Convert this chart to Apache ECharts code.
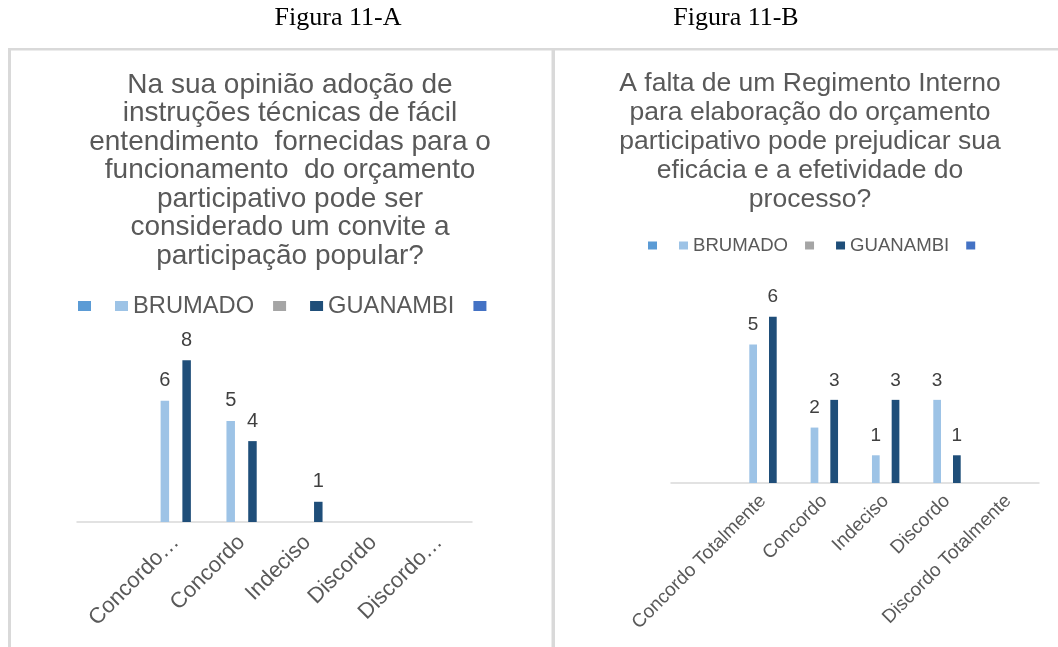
<!DOCTYPE html>
<html>
<head>
<meta charset="utf-8">
<script src="https://cdn.jsdelivr.net/npm/echarts@6/dist/echarts.min.js"></script>
<style>
html,body{margin:0;padding:0;background:#fff;}
#c{width:1058px;height:647px;}
</style>
</head>
<body>
<div id="c"></div>
<script>
// ---- data ----
const categories = ['', 'Concordo Totalmente', 'Concordo', 'Indeciso', 'Discordo', 'Discordo Totalmente'];
const emptySeries = [null, null, null, null, null, null];
const brumadoA = [null, 6, 5, null, null, null];
const guanambiA = [null, 8, 4, 1, null, null];
const brumadoB = [null, 5, 2, 1, 3, null];
const guanambiB = [null, 6, 3, 3, 1, null];
const legendA = ['a1', 'BRUMADO', 'a3', 'GUANAMBI', 'a5'];
const legendB = ['b1', 'BRUMADO', 'b3', 'GUANAMBI', 'b5'];
const titleA = 'Na sua opinião adoção de\ninstruções técnicas de fácil\nentendimento  fornecidas para o\nfuncionamento  do orçamento\nparticipativo pode ser\nconsiderado um convite a\nparticipação popular?';
const titleB = 'A falta de um Regimento Interno\npara elaboração do orçamento\nparticipativo pode prejudicar sua\neficácia e a efetividade do\nprocesso?';
const headerA = 'Figura 11-A';
const headerB = 'Figura 11-B';

const colors = ['#5b9bd5', '#9dc3e6', '#a5a5a5', '#1f4e79', '#4472c4'];
const SANS = "'Liberation Sans', Arial, sans-serif";
const SERIF = "'Liberation Serif', 'Times New Roman', serif";

function makeSeries(names, dataList, axisIndex, barWidth, labelSize, dist) {
  return names.map((n, i) => ({
    name: n,
    type: 'bar',
    xAxisIndex: axisIndex,
    yAxisIndex: axisIndex,
    data: dataList[i],
    barWidth: barWidth,
    barGap: '28%',
    itemStyle: { color: colors[i] },
    label: {
      show: true,
      position: 'top',
      distance: dist,
      color: '#404040',
      fontSize: labelSize,
      fontFamily: SANS
    },
    emphasis: { disabled: true }
  }));
}

const chart = echarts.init(document.getElementById('c'));
const legendFmt = name => (name.length <= 2 ? '\u200b' : name);

chart.setOption({
  animation: false,
  backgroundColor: '#ffffff',
  graphic: [
    { type: 'rect', shape: { x: 8, y: 48, width: 1050, height: 2.5 }, style: { fill: '#d9d9d9' }, silent: true },
    { type: 'rect', shape: { x: 8, y: 48, width: 3, height: 600 }, style: { fill: '#d9d9d9' }, silent: true },
    { type: 'rect', shape: { x: 551.5, y: 48, width: 3.5, height: 600 }, style: { fill: '#d9d9d9' }, silent: true },
    { type: 'text', x: 338, y: 18, style: { text: headerA, font: '26px ' + SERIF, fill: '#000', align: 'center', verticalAlign: 'middle' }, silent: true },
    { type: 'text', x: 736, y: 18, style: { text: headerB, font: '26px ' + SERIF, fill: '#000', align: 'center', verticalAlign: 'middle' }, silent: true }
  ],
  title: [
    {
      text: titleA, left: 290, top: 71, textAlign: 'center', padding: 0,
      textStyle: { fontFamily: SANS, fontSize: 28, fontWeight: 'normal', color: '#595959', lineHeight: 28.5 }
    },
    {
      text: titleB, left: 810, top: 69, textAlign: 'center', padding: 0,
      textStyle: { fontFamily: SANS, fontSize: 26.5, fontWeight: 'normal', color: '#595959', lineHeight: 29 }
    }
  ],
  legend: [
    {
      data: legendA, left: 78, top: 294, padding: 0, itemGap: 19,
      itemWidth: 13, itemHeight: 10, icon: 'rect', selectedMode: false,
      formatter: legendFmt,
      textStyle: { fontFamily: SANS, fontSize: 23.7, color: '#595959' }
    },
    {
      data: legendB, left: 648, top: 236, padding: 0, itemGap: 17,
      itemWidth: 9, itemHeight: 8, icon: 'rect', selectedMode: false,
      formatter: legendFmt,
      textStyle: { fontFamily: SANS, fontSize: 18.6, color: '#595959' }
    }
  ],
  grid: [
    { left: 77, top: 340, width: 395, height: 182, containLabel: false },
    { left: 671, top: 289, width: 368, height: 194, containLabel: false }
  ],
  xAxis: [
    {
      type: 'category', gridIndex: 0, data: categories,
      axisTick: { show: false },
      axisLine: { lineStyle: { color: '#d9d9d9', width: 1.5 } },
      axisLabel: {
        rotate: 45, margin: 17, interval: 0, color: '#595959', fontSize: 22, fontFamily: SANS,
        formatter: v => (v.indexOf(' ') > 0 ? v.split(' ')[0] + '…' : v)
      }
    },
    {
      type: 'category', gridIndex: 1, data: categories,
      axisTick: { show: false },
      axisLine: { lineStyle: { color: '#d9d9d9', width: 1.5 } },
      axisLabel: { rotate: 45, margin: 15, interval: 0, color: '#595959', fontSize: 19, fontFamily: SANS }
    }
  ],
  yAxis: [
    { type: 'value', gridIndex: 0, min: 0, max: 9, show: false },
    { type: 'value', gridIndex: 1, min: 0, max: 7, show: false }
  ],
  series: [].concat(
    makeSeries(legendA, [emptySeries, brumadoA, emptySeries, guanambiA, emptySeries], 0, 8.5, 20, 10),
    makeSeries(legendB, [emptySeries, brumadoB, emptySeries, guanambiB, emptySeries], 1, 7.7, 19, 10)
  )
});
</script>
</body>
</html>
